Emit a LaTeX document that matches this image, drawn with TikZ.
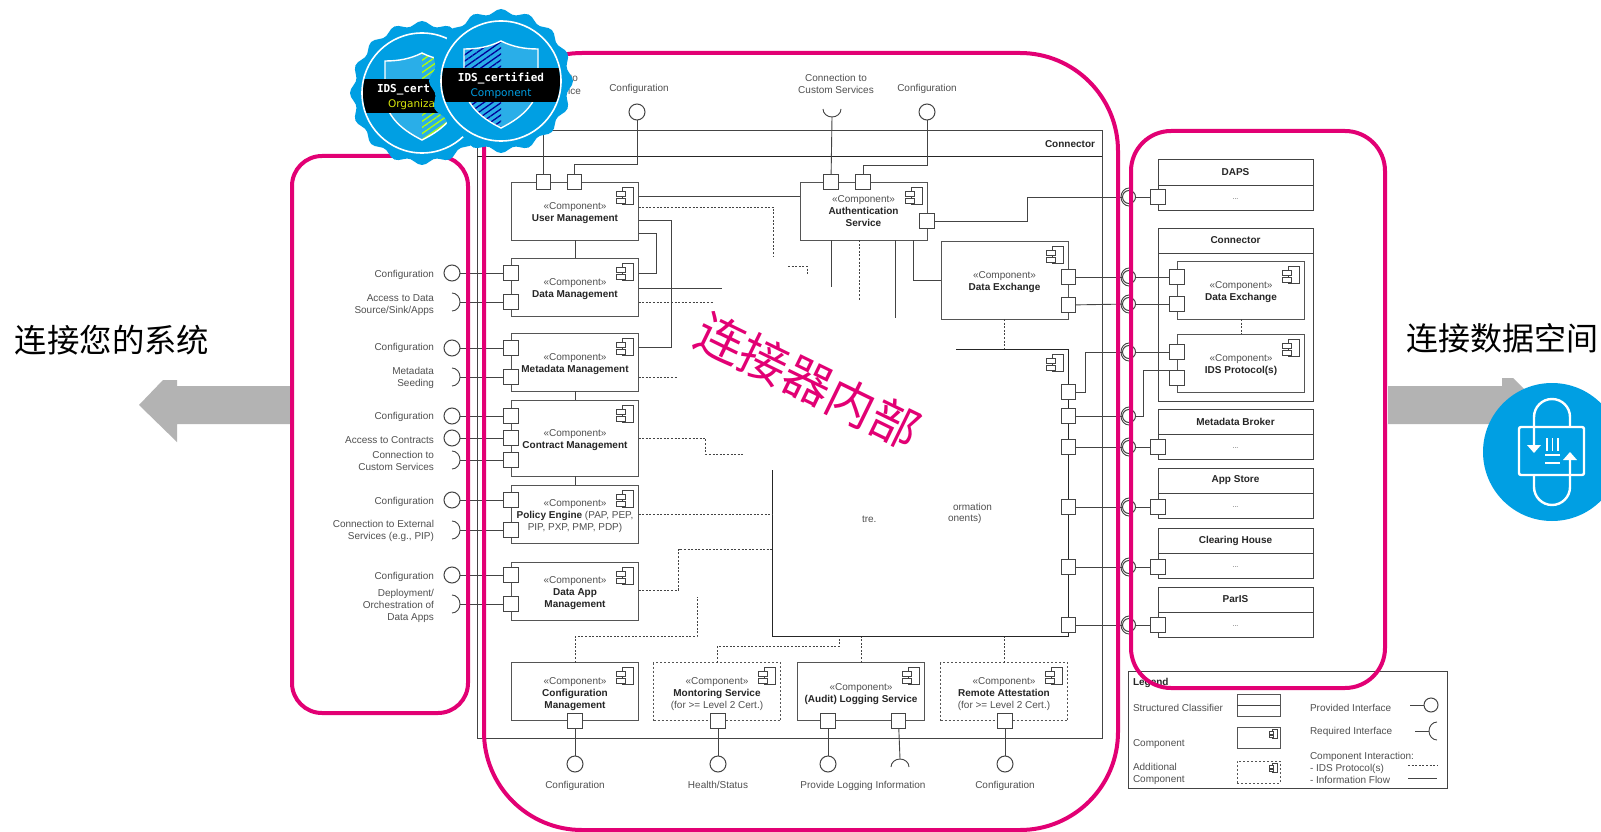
\documentclass[tikz,border=0pt]{standalone}
\usepackage{fontspec}
\setmainfont{Liberation Sans}
\newfontfamily\cjkfont{Noto Sans CJK SC}
\newfontfamily\badgemono{DejaVu Sans Mono}
\newfontfamily\badgesans{DejaVu Sans}
\usetikzlibrary{arrows.meta, patterns.meta, positioning}
\definecolor{telekom}{HTML}{E20074}
\definecolor{idsblue}{HTML}{009FE3}
\definecolor{idslight}{HTML}{2AAEE8}
\definecolor{boxgray}{HTML}{555555}
\definecolor{wiregray}{HTML}{444444}
\definecolor{labelgray}{HTML}{505050}
\definecolor{arrowgray}{HTML}{B3B3B3}
\tikzstyle{diagram}=[x=1pt, y=-1pt, outer sep=0pt, inner sep=0pt]
\tikzstyle{comp}=[draw=boxgray, line width=1pt, minimum width=127pt, minimum height=58pt, align=center, text=labelgray]
\tikzstyle{optcomp}=[comp, dash pattern=on 2pt off 2pt]
\tikzstyle{classbox}=[draw=wiregray, line width=1pt, minimum width=155pt, minimum height=50pt, anchor=north]
\tikzstyle{port}=[draw=wiregray, fill=white, line width=1pt, minimum size=14.5pt]
\tikzstyle{provif}=[draw=wiregray, circle, line width=1pt, minimum size=16pt]
\tikzstyle{conn}=[draw=wiregray, line width=.9pt]
\tikzstyle{infodash}=[draw=wiregray, line width=.8pt, dash pattern=on 2pt off 1.6pt]
\tikzstyle{lbl}=[text=labelgray, align=right, anchor=east, yshift=-1.8pt]
\tikzstyle{lbll}=[text=labelgray, align=left, anchor=west, yshift=-2.2pt]
\tikzstyle{lblc}=[text=labelgray, align=center, yshift=-1.5pt]
\tikzstyle{frame}=[draw=telekom, line width=4pt]
\tikzstyle{lockline}=[draw=white, line width=2.4pt]
\tikzset{
  reqif/.pic={\draw[wiregray, line width=.9pt] (-8,-9) arc[x radius=8, y radius=9, start angle=-90, end angle=90];},
  compicon/.pic={
    \draw[wiregray, line width=.9pt, fill=white] (-16,5) rectangle (-5,22);
    \draw[wiregray, line width=.9pt, fill=white] (-22,9) rectangle (-13,14);
    \draw[wiregray, line width=.9pt, fill=white] (-22,16) rectangle (-13,21);
  }
}
\newcommand{\nameline}[1]{\textcolor{black!85}{\textbf{#1}}}
\newcommand{\stereo}[1][11.7pt]{\rule{0pt}{#1}«Component»}
\newcommand{\badgebody}[3]{
  \fill[idsblue] plot[domain=0:360, samples=113] (\x:{69.5+2.5*cos(16*\x)}) -- cycle;
  \draw[white, line width=1.6pt] (0,0) circle[radius=60];
  \path[fill=idslight] (0,-40) .. controls (-12,-34) and (-24,-32) .. (-37,-32) -- (-37,5) .. controls (-35,25) and (-18,38) .. (0,47) .. controls (18,38) and (35,25) .. (37,5) -- (37,-32) .. controls (24,-32) and (12,-34) .. (0,-40) -- cycle;
  \path[xscale=#1, pattern={Lines[angle=35, distance=5pt, line width=1.3pt]}, pattern color=#2] (0,-40) .. controls (-12,-34) and (-24,-32) .. (-37,-32) -- (-37,5) .. controls (-35,25) and (-18,38) .. (0,47) -- cycle;
  \draw[white, line width=1.4pt] (0,-40) .. controls (-12,-34) and (-24,-32) .. (-37,-32) -- (-37,5) .. controls (-35,25) and (-18,38) .. (0,47) .. controls (18,38) and (35,25) .. (37,5) -- (37,-32) .. controls (24,-32) and (12,-34) .. (0,-40) -- cycle;
  \begin{scope}
    \clip (0,0) circle[radius=59];
    \fill[black] (-60,#3) rectangle (60,#3+34);
  \end{scope}
}
\begin{document}
\begin{tikzpicture}[diagram]
  \useasboundingbox (0,0) rectangle (1601,832);
  \fill[white] (0,0) rectangle (1601,832);

  \node[minimum width=625pt, minimum height=607pt, draw=wiregray, line width=1pt] (connector) at (789.5,434.5) {};
  \draw[black!85, line width=1pt] ([yshift=-26pt]connector.north west) -- ([yshift=-26pt]connector.north east);
  \node[lbl] (connectortitle) at (1095,142) {\nameline{Connector}};

  \node[comp] (usermgmt) at (575,211) {\stereo\\\nameline{User Management}};
  \node[comp,below=18pt of usermgmt] (datamgmt) {\stereo\\\nameline{Data Management}};
  \node[comp,below=17pt of datamgmt] (metadata) {\stereo\\\nameline{Metadata Management}};
  \node[comp,minimum height=76pt,below=9pt of metadata] (contract) {\stereo\\\nameline{Contract Management}};
  \node[comp,below=9pt of contract] (policy) {\stereo\\\nameline{Policy Engine} (PAP, PEP,\\PIP, PXP, PMP, PDP)};
  \node[comp,below=19pt of policy] (dataapp) {\stereo\\\nameline{Data App}\\\nameline{Management}};
  \node[comp] (auth) at (863.5,211) {«Component»\\\nameline{Authentication}\\\nameline{Service}};
  \node[comp,minimum height=78pt] (exchange) at (1004.5,280) {\stereo\\\nameline{Data Exchange}};
  \node[comp] (confmgmt) at (575,691.5) {\stereo[13pt]\\\nameline{Configuration}\\\nameline{Management}};
  \node[optcomp,right=15pt of confmgmt] (monitoring) {\stereo[13pt]\\\nameline{Montoring Service}\\(for >= Level 2 Cert.)};
  \node[comp,right=17pt of monitoring] (logging) {\stereo[13pt]\\\nameline{(Audit) Logging Service}};
  \node[optcomp,right=16pt of logging] (attestation) {\stereo[13pt]\\\nameline{Remote Attestation}\\(for >= Level 2 Cert.)};

  \coordinate (coretop) at (956,349);
  \coordinate (corecorner) at (1068.5,636.5);
  \coordinate (coreleft) at (772,470);
  \draw[black!85, line width=1pt] (coretop) -| (corecorner) -| (coreleft);
  \node[lbll] (fragA) at (953,505) {ormation};
  \node[lbll] (fragB) at (948,517) {onents)};
  \node[lbll] (fragC) at (862,517) {tre.};

  \foreach \c in {usermgmt,datamgmt,metadata,contract,policy,dataapp,auth,exchange,confmgmt,monitoring,logging,attestation}
    \pic at (\c.north east) {compicon};
  \pic at (coretop -| corecorner) {compicon};

  \draw[conn] (usermgmt) -- (datamgmt);
  \draw[conn] (metadata) -- (contract);
  \draw[conn] (contract) -- (policy);

  \foreach \y/\t in {273/Configuration, 303/{Access to Data\\Source/Sink/Apps}, 346/Configuration, 376.5/{Metadata\\Seeding}, 415/Configuration, 438/Access to Contracts, 459.5/{Connection to\\Custom Services}, 500/Configuration, 529/{Connection to External\\Services (e.g., PIP)}, 575/Configuration, 604/{Deployment/\\Orchestration of\\Data Apps}}
    \node[lbl] (lbl\y) at (434,\y) {\t};
  \foreach \y in {273,348,416,438,500,575} {
    \node[port] (lp\y) at (511,\y) {};
    \node[provif] (lif\y) at (452,\y) {};
    \draw[conn] (lif\y) -- (lp\y);
  }
  \foreach \y in {302,377,460,530,604} {
    \node[port] (lp\y) at (511,\y) {};
    \coordinate (lcup\y) at (460,\y);
    \pic at (lcup\y) {reqif};
    \draw[conn] (lcup\y) -- (lp\y);
  }

  \node[port] (umpA) at (543.5,182) {};
  \node[port] (umpB) at (574.5,182) {};
  \coordinate (umtop) at (543.5,120);
  \draw[conn] (umtop) -- (umpA);
  \node[provif] (topifA) at (637,112) {};
  \draw[conn] (topifA) -- ++(0,52) -| (umpB);
  \node[lblc] (lblcfgA) at (639,87) {Configuration};
  \node[lbl] (lbltoA) at (578,77) {to};
  \node[lbl] (lbltoB) at (581,89) {ice};

  \node[port] (aupA) at (831,182) {};
  \node[port] (aupB) at (863,182) {};
  \node[port] (aupC) at (927,221) {};
  \coordinate (topcup) at (832,117);
  \pic[rotate=-90] at (topcup) {reqif};
  \draw[conn] (topcup) -- (aupA);
  \node[provif] (topifB) at (927,112) {};
  \draw[conn] (topifB) -- ++(0,53) -| (aupB);
  \node[lblc] (lblcustom) at (836,82) {Connection to\\Custom Services};
  \node[lblc] (lblcfgB) at (927,87) {Configuration};

  \draw[conn] ([yshift=15pt]usermgmt.east) -- ([yshift=15pt]usermgmt.east -| auth.west);
  \draw[conn] ([yshift=-9pt]usermgmt.east) -- ++(33,0) |- ([yshift=14.5pt]metadata.east);
  \draw[conn] ([yshift=-22pt]usermgmt.east) -- ++(18,0) |- ([yshift=14pt]datamgmt.east);
  \draw[conn] ([yshift=-1pt]datamgmt.east) -- ++(83,0);
  \draw[infodash] ([yshift=-15pt]datamgmt.east) -- ++(74,0);
  \draw[infodash] ([yshift=4pt]usermgmt.east) -- ++(135,0) -- ++(0,50);
  \coordinate (stubA) at (788,266);
  \draw[infodash] (stubA) -- ++(19,0) -- ++(0,9);
  \draw[infodash] ([yshift=-15pt]metadata.east) -- ++(38,0);
  \draw[infodash] (contract.east) -- ++(67,0) -- ++(0,16) -- ++(39,0);
  \draw[infodash] (policy.east) -- (policy.east -| coreleft);
  \draw[infodash] ([yshift=1pt]dataapp.east) -- ++(40,0) -- ++(0,-41) -- ++(93,0);
  \draw[conn] ([xshift=-32pt]auth.south) -- ++(0,47);
  \draw[infodash] ([xshift=-4.5pt]auth.south) -- ++(0,60);
  \draw[conn] ([xshift=31.5pt]auth.south) -- ++(0,78);
  \draw[conn] ([xshift=49.5pt]auth.south) |- (exchange.west);
  \draw[infodash] (exchange.south) -- (exchange.south |- coretop);

  \foreach \x/\t in {575/Configuration, 718/{\vphantom{g}Health/Status}, 828/{}, 1005/Configuration} {
    \node[port] (bp\x) at (\x,721) {};
    \node[provif] (bif\x) at (\x,764) {};
    \draw[conn] (bp\x) -- (bif\x);
    \node[lblc] (blbl\x) at (\x,784) {\t};
  }
  \node[port] (bp898) at (898.5,721) {};
  \coordinate (botcup) at (900,759);
  \pic[rotate=90] at (botcup) {reqif};
  \draw[conn] (bp898) -- (botcup);
  \node[lblc] (blbllog) at (863,784) {Provide Logging Information};

  \coordinate (confA) at (697,597);
  \draw[infodash] (confmgmt.north) |- (confA |- corecorner) -- (confA);
  \coordinate (monA) at (839,638);
  \draw[infodash] (monitoring.north) -- ++(0,-16) -| (monA);
  \draw[infodash] (logging.north) -- (logging.north |- corecorner);
  \draw[infodash] (attestation.north) -- (attestation.north |- corecorner);

  \foreach \n/\t/\y in {daps/DAPS/160, broker/Metadata Broker/409, appstore/App Store/468, clearing/Clearing House/528, paris/ParIS/587} {
    \node[classbox] (\n) at (1235.5,\y) {};
    \draw[conn] ([yshift=-25pt]\n.north west) -- ([yshift=-25pt]\n.north east);
    \node[lblc] (\n title) at ([yshift=-11pt]\n.north) {\nameline{\t}};
    \node[lblc,font=\scriptsize] (\n dots) at ([yshift=-38pt]\n.north) {...};
  }
  \node[classbox,minimum height=173pt] (rconnector) at (1235.5,228) {};
  \draw[conn] ([yshift=-25pt]rconnector.north west) -- ([yshift=-25pt]rconnector.north east);
  \node[lblc] (rconnectortitle) at ([yshift=-11pt]rconnector.north) {\nameline{Connector}};
  \node[comp] (rexchange) at (1241,290) {\stereo\\\nameline{Data Exchange}};
  \node[comp,below=15pt of rexchange] (rprotocol) {\stereo\\\nameline{IDS Protocol(s)}};
  \pic at (rexchange.north east) {compicon};
  \pic at (rprotocol.north east) {compicon};
  \draw[infodash] (rexchange) -- (rprotocol);

  \foreach \y in {197,277,304,352,416,447,507,567,625} {
    \node[provif,minimum size=13pt] (rif\y) at (1129,\y) {};
    \coordinate (rcup\y) at (1121,\y);
    \pic[rotate=180] at (rcup\y) {reqif};
  }
  \foreach \y in {392,416,447,507,567,625}
    \node[port] (bigp\y) at (1068.5,\y) {};
  \foreach \y in {277,305}
    \node[port] (exp\y) at (1068.5,\y) {};
  \foreach \y in {197,447,507,567,625}
    \node[port] (cp\y) at (1158,\y) {};
  \foreach \y in {277,304,352,378}
    \node[port] (rp\y) at (1177,\y) {};
  \draw[conn] (aupC) -- ++(100,0) |- (rif197);
  \draw[conn] (rif197) -- (cp197);
  \draw[conn] (exp277) -- (rif277);
  \draw[conn] (rif277) -- (rp277);
  \draw[conn] (exp305) -- (rif304);
  \draw[conn] (rif304) -- (rp304);
  \draw[conn] (bigp392) -- ++(17,0) |- (rif352);
  \draw[conn] (rif352) -- (rp352);
  \draw[conn] (bigp416) -- (rif416);
  \draw[conn] (rif416) -- ++(14,0) |- (rp378.north west);
  \foreach \y in {447,507,567,625} {
    \draw[conn] (bigp\y) -- (rif\y);
    \draw[conn] (rif\y) -- (cp\y);
  }

  \node[minimum width=319pt, minimum height=117pt, draw=wiregray, line width=1pt] (legend) at (1287.5,729.5) {};
  \node[lbll] (lgtitle) at (1133,681) {\nameline{Legend}};
  \foreach \n/\x/\y/\t in {lgA/1133/706/Structured Classifier, lgB/1133/742/Component, lgC/1133/772/{Additional\\Component}, lgD/1310/706/Provided Interface, lgE/1310/730/Required Interface, lgF/1310/766/{Component Interaction:\\- IDS Protocol(s)\\- Information Flow}}
    \node[lbll] (\n) at (\x,\y) {\t};
  \node[comp,minimum width=43pt,minimum height=22pt] (lgclass) at (1258.5,705) {};
  \draw[conn] (lgclass.west) -- (lgclass.east);
  \node[comp,minimum width=43pt,minimum height=21pt] (lgcomp) at (1258.5,737.5) {};
  \node[optcomp,minimum width=43pt,minimum height=22pt] (lgadd) at (1258.5,772) {};
  \pic[scale=.5] at (lgcomp.north east) {compicon};
  \pic[scale=.5] at (lgadd.north east) {compicon};
  \node[provif,minimum size=14pt] (lgprov) at (1431,705) {};
  \coordinate (lgprovend) at (1410,705);
  \draw[conn] (lgprovend) -- (lgprov);
  \coordinate (lgreq) at (1429,731);
  \coordinate (lgreqend) at (1415,731);
  \pic[rotate=180] at (lgreq) {reqif};
  \draw[conn] (lgreqend) -- (lgreq);
  \coordinate (lgdashA) at (1408,765);
  \coordinate (lgdashB) at (1437,765);
  \coordinate (lgsolidA) at (1408,778);
  \coordinate (lgsolidB) at (1437,778);
  \draw[infodash] (lgdashA) -- (lgdashB);
  \draw[conn] (lgsolidA) -- (lgsolidB);

  \fill[arrowgray] (290,386) -- (177,386) -- (177,380) -- (163,380) -- (139,405) -- (177,442) -- (177,424) -- (290,424) -- cycle;
  \fill[arrowgray] (1388,386) -- (1502,386) -- (1502,378) -- (1513,378) -- (1545,410) -- (1502,450) -- (1502,424) -- (1388,424) -- cycle;
  \node[font=\cjkfont\fontsize{32.4}{36}\selectfont] (lefttitle) at (112,340) {连接您的系统};
  \node[font=\cjkfont\fontsize{32}{36}\selectfont] (righttitle) at (1502,338) {连接数据空间};

  \fill[idsblue] (1552,452) circle[radius=69];
  \draw[lockline, rounded corners=2pt] (1519,427) rectangle (1584,475);
  \draw[lockline] (1534,447) -- (1534,417) arc[radius=18, start angle=180, end angle=360] -- (1570,427);
  \draw[lockline] (1534,475) -- (1534,487) arc[radius=18, start angle=180, end angle=0] -- (1570,458);
  \fill[white] (1527,445) -- (1541,445) -- (1534,453) -- cycle;
  \fill[white] (1563,460) -- (1577,460) -- (1570,452) -- cycle;
  \foreach \x in {1547,1552.5,1558}
    \draw[white, line width=1.6pt] (\x,438) -- (\x,451);
  \foreach \y in {455,463}
    \draw[white, line width=1.6pt] (1545,\y) -- (1560,\y);

  \node[rotate=-26, text=telekom, font=\cjkfont\fontsize{48.4}{54}\selectfont] (insidetitle) at (808,381) {连接器内部};

  \node[frame, rounded corners=30pt, minimum width=176pt, minimum height=557pt] (leftframe) at (380,434.5) {};
  \node[frame, rounded corners=98pt, minimum width=634pt, minimum height=777pt] (middleframe) at (801,441.5) {};
  \node[frame, rounded corners=40pt, minimum width=254pt, minimum height=557pt] (rightframe) at (1258,409.5) {};

  \begin{scope}[shift={(422,93)}]
    \badgebody{-1}{yellow!70!green}{-14}
    \node[anchor=west, text=white, font=\badgemono\bfseries\fontsize{11}{13}\selectfont] (orgtitle) at (-45,-3) {IDS\_cert};
    \node[anchor=west, text=yellow!85!green, font=\badgesans\fontsize{10.5}{13}\selectfont] (orgsub) at (-34,12) {Organiza};
  \end{scope}
  \begin{scope}[shift={(501,81)}]
    \badgebody{1}{blue!60!black}{-13}
    \node[text=white, font=\badgemono\bfseries\fontsize{11}{13}\selectfont] (comptitle) at (0,-3) {IDS\_certified};
    \node[text=idsblue, font=\badgesans\fontsize{10.5}{13}\selectfont] (compsub) at (0,13) {Component};
  \end{scope}
\end{tikzpicture}
\end{document}
